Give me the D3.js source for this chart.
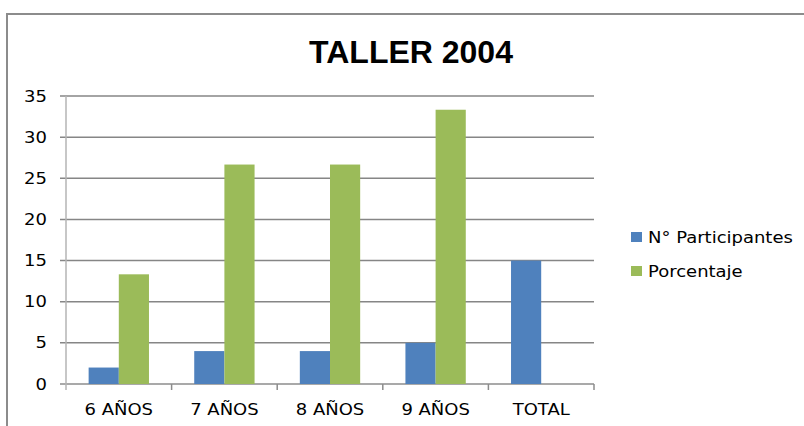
<!DOCTYPE html>
<html>
<head>
<meta charset="utf-8">
<script src="https://cdn.jsdelivr.net/npm/d3@7"></script>
<style>
body { margin: 0; background: #fff; }
text { font-family: "DejaVu Sans", Verdana, sans-serif; fill: #000; }
</style>
</head>
<body>
<div id="chart"></div>
<script>
// data
var categories = ["6 AÑOS", "7 AÑOS", "8 AÑOS", "9 AÑOS", "TOTAL"];
var seriesNames = ["N° Participantes", "Porcentaje"];
var participantes = [2, 4, 4, 5, 15];
var porcentaje = [13.33, 26.67, 26.67, 33.33, null];
var yTicks = [0, 5, 10, 15, 20, 25, 30, 35];

var W = 804, H = 426;
var margin = {top: 96, right: 210, bottom: 42, left: 66},
    width = W - margin.left - margin.right,
    height = H - margin.top - margin.bottom;

var color = d3.scaleOrdinal().domain(seriesNames).range(["#4f81bd", "#9bbb59"]);
var stretch = 1.2; // the picture is wider than tall, so text is stretched
var fontSize = "15px";

var svg = d3.select("#chart").append("svg")
    .attr("width", W)
    .attr("height", H);

// outer frame
svg.append("path")
    .attr("d", "M7," + H + "V14H" + (W + 2))
    .attr("fill", "none")
    .attr("stroke", "#8c8c8c")
    .attr("stroke-width", 2);

// title
svg.append("text")
    .attr("x", 411)
    .attr("y", 63)
    .attr("text-anchor", "middle")
    .style("font-family", "'Liberation Sans', Arial, sans-serif")
    .style("font-weight", "bold")
    .style("font-size", "32px")
    .text("TALLER 2004");

var g = svg.append("g")
    .attr("transform", "translate(" + margin.left + "," + margin.top + ")");

var x0 = d3.scaleBand().domain(categories).range([0, width]);
var gap = x0.bandwidth() * 1.5 / 3.5;
var x1 = d3.scaleBand().domain(seriesNames).range([gap / 2, x0.bandwidth() - gap / 2]);
var y = d3.scaleLinear().domain([0, 35]).range([height, 0]);

// gridlines
g.append("g").selectAll("line")
    .data(yTicks)
    .enter().append("line")
    .attr("x1", -6)
    .attr("x2", width)
    .attr("y1", function(d) { return y(d); })
    .attr("y2", function(d) { return y(d); })
    .attr("stroke", function(d) { return d == 0 ? "#8c8c8c" : "#868686"; })
    .attr("stroke-width", 1.5);

// y axis line
g.append("line")
    .attr("x1", 0).attr("x2", 0)
    .attr("y1", 0).attr("y2", height + 6)
    .attr("stroke", "#b4b4b4")
    .attr("stroke-width", 1.5);

// y tick labels
g.append("g").selectAll("text")
    .data(yTicks)
    .enter().append("text")
    .attr("transform", function(d) { return "translate(-19," + (y(d) + 5.5) + ") scale(" + stretch + ",1)"; })
    .attr("text-anchor", "end")
    .style("font-size", fontSize)
    .text(function(d) { return d; });

// category ticks
var edges = categories.map(function(c) { return x0(c); }).concat([width]);
g.append("g").selectAll("line")
    .data(edges.slice(1))
    .enter().append("line")
    .attr("x1", function(d) { return d; })
    .attr("x2", function(d) { return d; })
    .attr("y1", height)
    .attr("y2", height + 6)
    .attr("stroke", "#8c8c8c")
    .attr("stroke-width", 1.5);

// category labels
g.append("g").selectAll("text")
    .data(categories)
    .enter().append("text")
    .attr("transform", function(d) { return "translate(" + (x0(d) + x0.bandwidth() / 2) + "," + (height + 31) + ") scale(" + stretch + ",1)"; })
    .attr("text-anchor", "middle")
    .style("font-size", fontSize)
    .text(function(d) { return d; });

// bars
var rows = categories.map(function(c, i) {
    return {cat: c, values: [
        {name: seriesNames[0], value: participantes[i]},
        {name: seriesNames[1], value: porcentaje[i]}
    ]};
});

g.append("g").selectAll("g")
    .data(rows)
    .enter().append("g")
    .attr("transform", function(d) { return "translate(" + x0(d.cat) + ",0)"; })
    .selectAll("rect")
    .data(function(d) { return d.values.filter(function(v) { return v.value != null; }); })
    .enter().append("rect")
    .attr("x", function(d) { return x1(d.name); })
    .attr("width", x1.bandwidth())
    .attr("y", function(d) { return y(d.value); })
    .attr("height", function(d) { return height - y(d.value); })
    .attr("fill", function(d) { return color(d.name); });

// legend
var legend = svg.append("g").selectAll("g")
    .data(seriesNames)
    .enter().append("g")
    .attr("transform", function(d, i) { return "translate(631," + (232 + i * 34) + ")"; });

legend.append("rect")
    .attr("width", 11)
    .attr("height", 10)
    .attr("fill", function(d) { return color(d); });

legend.append("text")
    .attr("transform", "translate(17,11) scale(" + stretch + ",1)")
    .style("font-size", fontSize)
    .text(function(d) { return d; });
</script>
</body>
</html>
